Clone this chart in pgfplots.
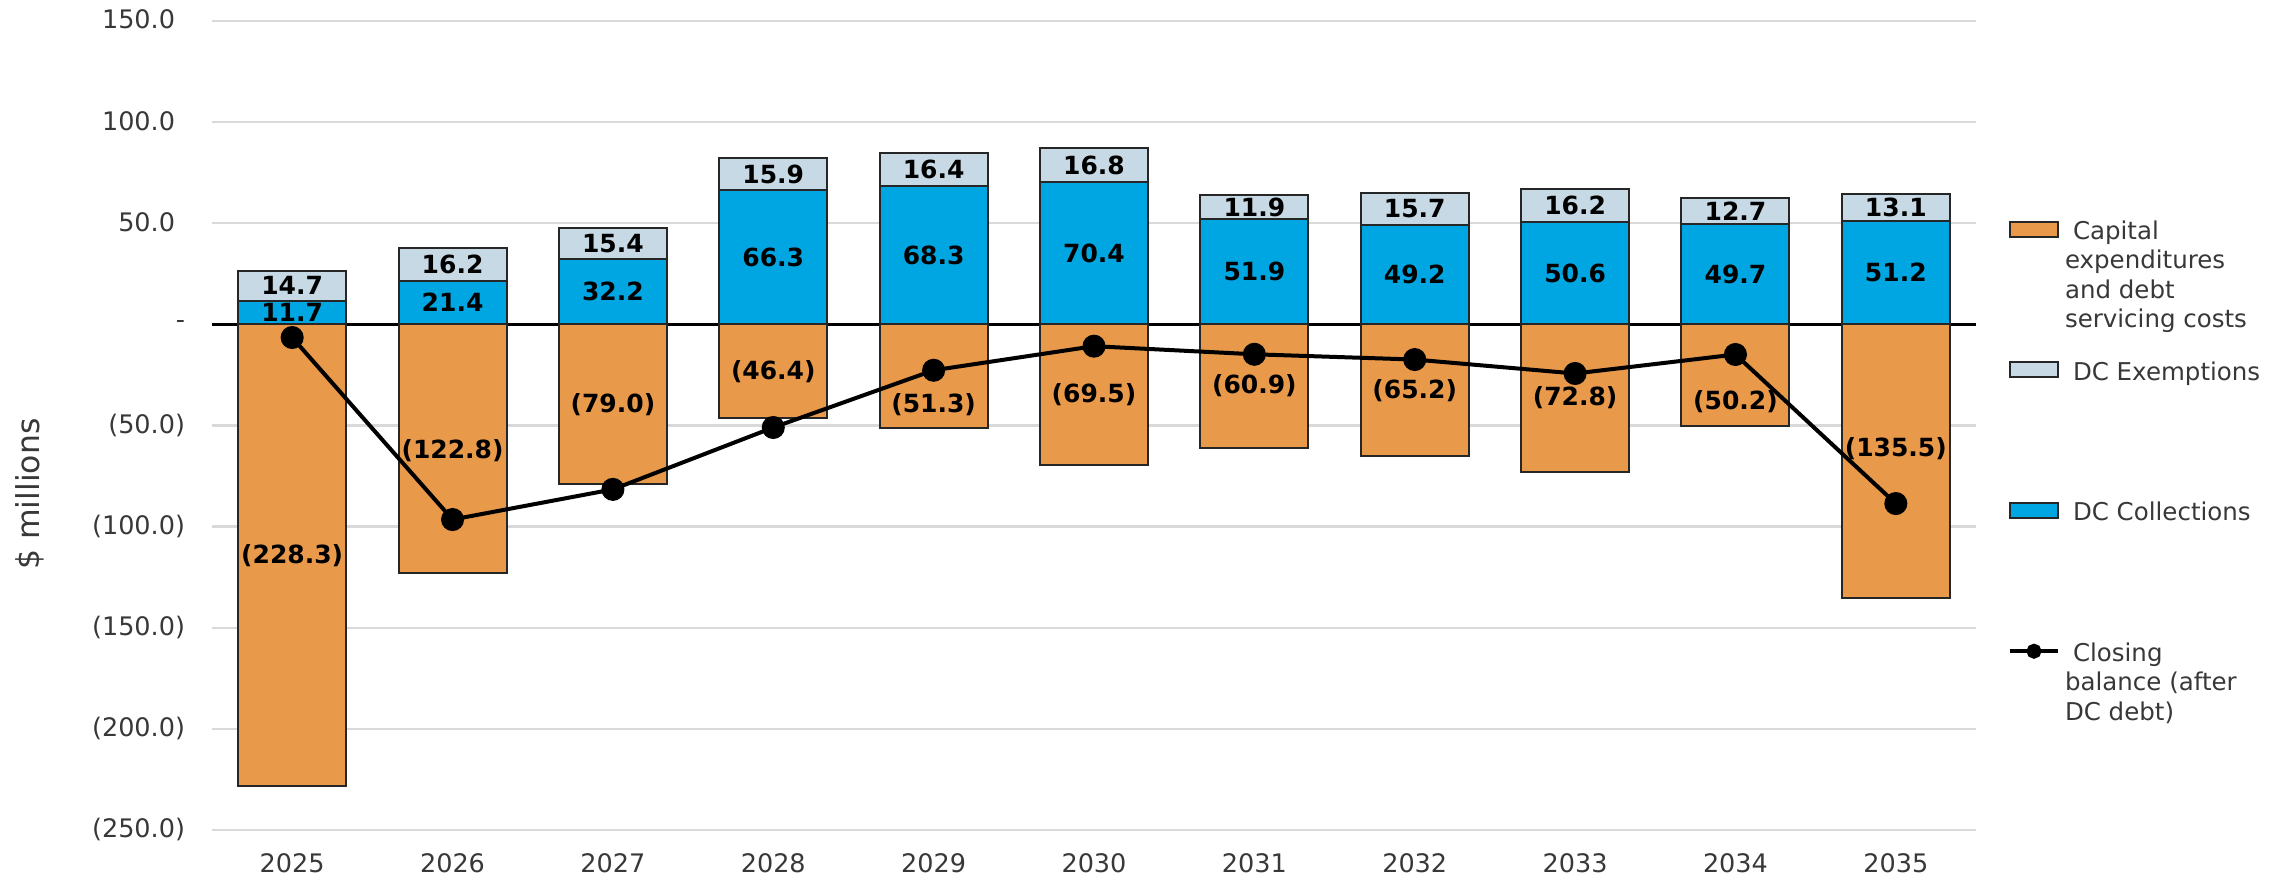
\documentclass[border=0pt]{standalone}
\usepackage{fontspec}
\setmainfont{DejaVu Sans}
\usepackage{pgfplots}
\pgfplotsset{compat=1.18}
\usepackage{pgfplotstable}
\definecolor{capex}{HTML}{E8994A}
\definecolor{coll}{HTML}{00A6E2}
\definecolor{exempt}{HTML}{C6D9E4}
\definecolor{tickgray}{HTML}{383838}
\definecolor{gridgray}{HTML}{D9D9D9}
\definecolor{edge}{HTML}{262626}

\pgfplotsset{
  barlegend/.style={legend image code/.code={\draw[##1] (0pt,-3.8pt) rectangle (9.6pt,-0.8pt);}},
  linelegend/.style={legend image code/.code={\draw[##1, mark repeat=2, mark phase=2, mark size=1.1pt] plot coordinates {(0pt,-2.3pt) (4.8pt,-2.3pt) (9.6pt,-2.3pt)};}},
  vlabel/.style={sharp plot, draw=none, mark=none, forget plot, bar shift=0pt,
    nodes near coords style={anchor=center, inner sep=0pt, text=black, font=\fontsize{5}{6}\selectfont\bfseries}},
}

% caplab = vertical position of the capital-expenditure label
\pgfplotstableread{
x capex coll exempt bal caplab
0 -228.3 11.7 14.7 -6.5 -114.2
1 -122.8 21.4 16.2 -96.5 -62.5
2 -79.0 32.2 15.4 -81.6 -39.5
3 -46.4 66.3 15.9 -51.0 -23.2
4 -51.3 68.3 16.4 -22.7 -39.5
5 -69.5 70.4 16.8 -10.8 -34.8
6 -60.9 51.9 11.9 -14.8 -30.5
7 -65.2 49.2 15.7 -17.4 -32.6
8 -72.8 50.6 16.2 -24.3 -36.4
9 -50.2 49.7 12.7 -14.9 -38.0
10 -135.5 51.2 13.1 -88.6 -61.5
}\datatable

\begin{document}
\begin{tikzpicture}
\begin{axis}[
  scale only axis, width=352.8pt, height=161.8pt,
  xmin=-0.5, xmax=10.5, ymin=-250, ymax=150,
  enlargelimits=false,
  xtick={0,1,2,3,4,5,6,7,8,9,10},
  xticklabels={2025,2026,2027,2028,2029,2030,2031,2032,2033,2034,2035},
  ytick={-250,-200,-150,-100,-50,0,50,100,150},
  yticklabels={(250.0),(200.0),(150.0),(100.0),(50.0),{-\hspace{5.6pt}},50.0\phantom{)},100.0\phantom{)},150.0\phantom{)}},
  axis line style={draw=none},
  major tick length=0pt,
  ymajorgrids, grid style={gridgray, line width=0.45pt},
  extra y ticks={0}, extra y tick labels={},
  extra y tick style={grid style={black, line width=0.5pt}},
  tick label style={font=\fontsize{5.1}{6}\selectfont, text=tickgray},
  yticklabel style={anchor=east, inner sep=0pt, xshift=-5.2pt},
  xticklabel style={anchor=north, inner sep=0pt, yshift=-4.6pt},
  /pgf/number format/assume math mode=true,
  ybar, bar width=21.6pt,
  ylabel={\fontsize{6.3}{7}\selectfont\color{tickgray}\$ millions},
  ylabel style={at={([xshift=-36.4pt]rel axis cs:0,0.415)}, anchor=center},
  legend style={at={(rel axis cs:1,0.758)}, anchor=north west, xshift=6.2pt,
    draw=none, fill=none, inner sep=0pt, row sep=4.6pt, column sep=1.0pt,
    font=\fontsize{4.9}{5.9}\selectfont, text=tickgray,
    cells={anchor=north west}, nodes={inner sep=0pt, align=left}},
]
\addplot[bar shift=0pt, fill=capex, draw=edge, line width=0.4pt, barlegend]
  table[x=x, y=capex]{\datatable};
\addlegendentry{\strut\hspace{1.6pt}Capital\\\strut expenditures\\\strut and debt\\\strut servicing costs}
\addplot[bar shift=0pt, fill=exempt, draw=edge, line width=0.4pt, barlegend]
  table[x=x, y expr=\thisrow{coll}+\thisrow{exempt}]{\datatable};
\addlegendentry{\strut\hspace{1.6pt}DC Exemptions\\\strut\\\strut\\\strut}
\addplot[bar shift=0pt, fill=coll, draw=edge, line width=0.4pt, barlegend]
  table[x=x, y=coll]{\datatable};
\addlegendentry{\strut\hspace{1.6pt}DC Collections\\\strut\\\strut\\\strut}
\addplot[sharp plot, black, line width=0.8pt, mark=*, mark size=1.9pt,
  mark options={fill=black}, linelegend]
  table[x=x, y=bal]{\datatable};
\addlegendentry{\strut\hspace{1.6pt}Closing\\\strut balance (after\\\strut DC debt)}

% value labels
\addplot[vlabel, point meta={abs(\thisrow{capex})},
  nodes near coords={(\pgfmathprintnumber[fixed,fixed zerofill,precision=1]{\pgfplotspointmeta})}]
  table[x=x, y=caplab]{\datatable};
\addplot[vlabel, point meta={\thisrow{coll}},
  nodes near coords={\pgfmathprintnumber[fixed,fixed zerofill,precision=1]{\pgfplotspointmeta}}]
  table[x=x, y expr=\thisrow{coll}/2]{\datatable};
\addplot[vlabel, point meta={\thisrow{exempt}},
  nodes near coords={\pgfmathprintnumber[fixed,fixed zerofill,precision=1]{\pgfplotspointmeta}}]
  table[x=x, y expr=\thisrow{coll}+\thisrow{exempt}/2]{\datatable};
\end{axis}
\pgfresetboundingbox
\path ([xshift=-42.4pt,yshift=-9.6pt]current axis.south west) rectangle ([xshift=62.4pt,yshift=4.2pt]current axis.north east);
\end{tikzpicture}
\end{document}
